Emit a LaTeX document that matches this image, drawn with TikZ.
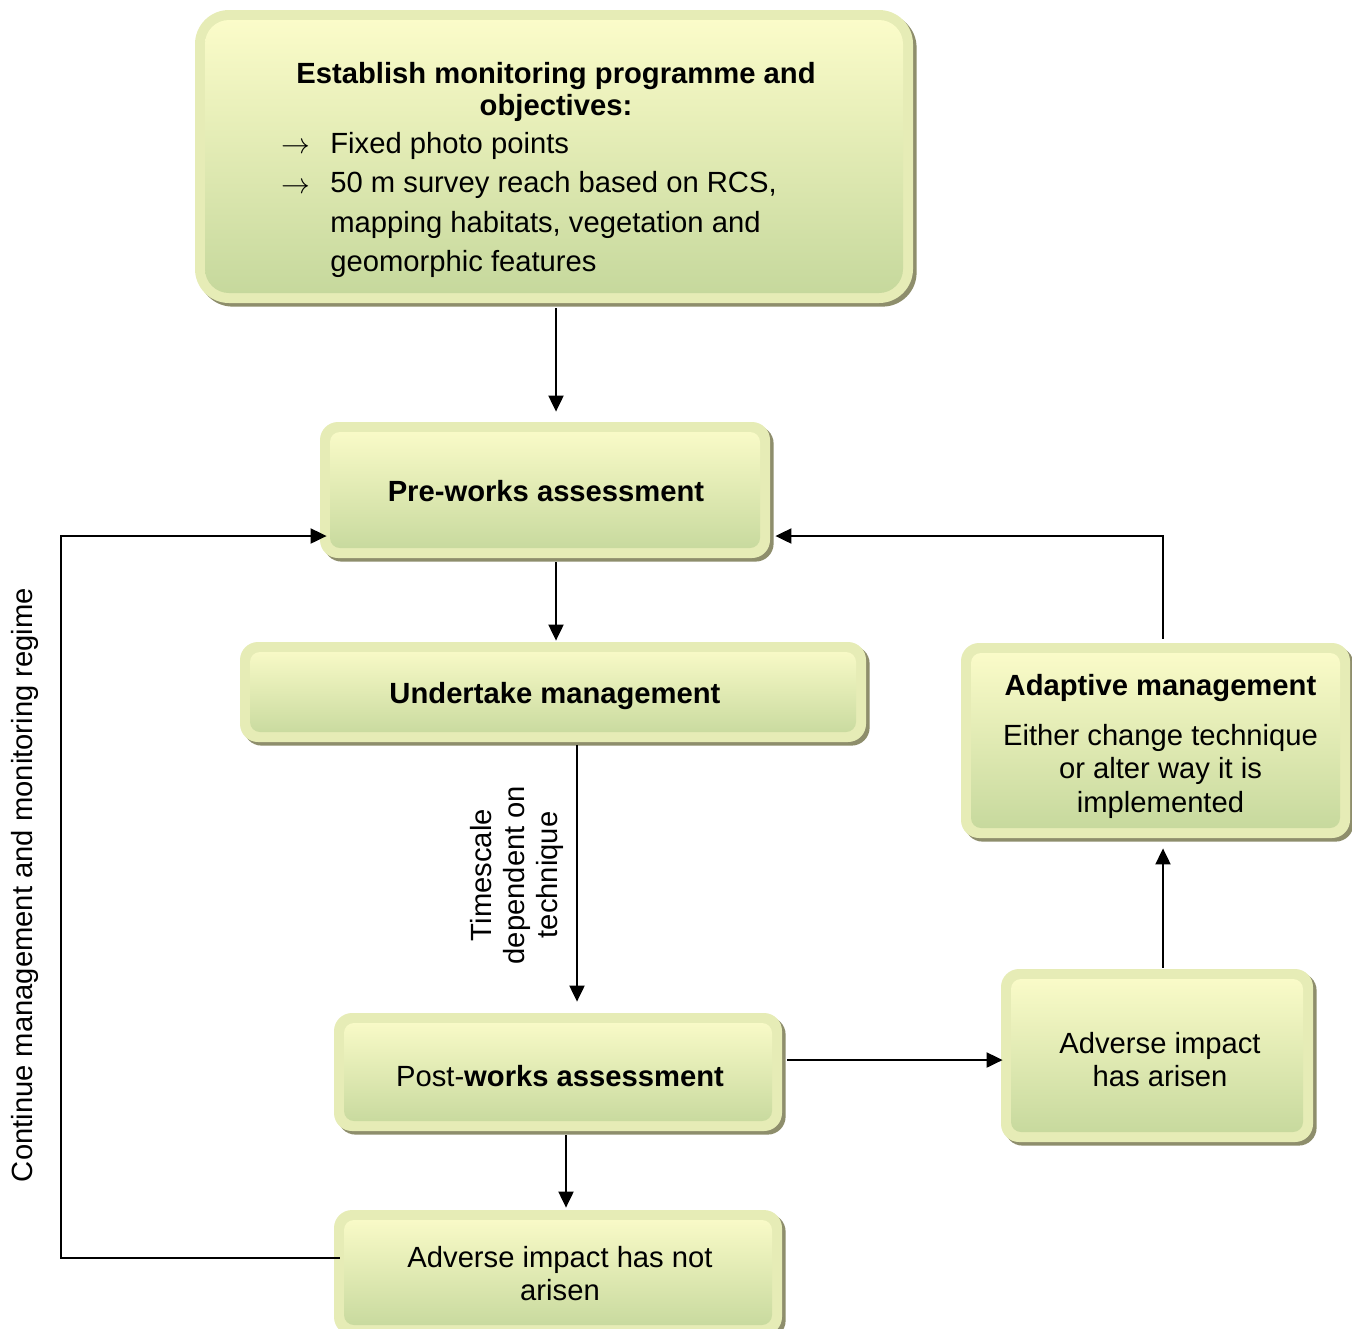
\documentclass[tikz,border=0pt]{standalone}
\usepackage{fontspec}
\setmainfont{Liberation Sans}
\usetikzlibrary{arrows.meta,shadows}

\definecolor{bandc}{HTML}{E6ECB6}
\definecolor{shadowc}{HTML}{8E8E6C}
\definecolor{gradtop}{HTML}{FDFDCB}
\definecolor{gradbot}{HTML}{C4D79B}

\tikzset{
  inner radius/.store in=\innerrad, inner radius=5pt,
  gbox/.style={rectangle, rounded corners=#1, fill=bandc, draw=none,
    inner sep=0pt,
    drop shadow={shadow xshift=1.8pt, shadow yshift=-1.8pt, fill=shadowc, opacity=1},
    path picture={
      \shade[top color=gradtop, bottom color=gradbot, rounded corners=\innerrad]
        ([shift={(5pt,5pt)}]path picture bounding box.south west) rectangle
        ([shift={(-5pt,-5pt)}]path picture bounding box.north east);
    }},
  gbox/.default=9pt,
  txt/.style={inner sep=0pt, align=center, font=\fontsize{14.6pt}{16.7pt}\selectfont},
  arr/.style={draw, line width=1pt, -{Triangle[length=8pt,width=7.5pt]}}
}

\begin{document}
\begin{tikzpicture}[x=0.5pt,y=-0.5pt]
\useasboundingbox (0,0) rectangle (1352,1328);
\clip (0,0) rectangle (1352,1328);

% boxes
\node[gbox=17pt, inner radius=12pt, minimum width=359pt, minimum height=146.5pt] (top) at (554,156.5) {};
\node[gbox, minimum width=225pt, minimum height=68pt] (pre) at (545,490) {};
\node[gbox, minimum width=313pt, minimum height=50pt] (under) at (553,692) {};
\node[gbox, minimum width=194.5pt, minimum height=97.5pt] (adapt) at (1155.5,740.5) {};
\node[gbox, minimum width=156pt, minimum height=86.5pt] (arisen) at (1157,1055.5) {};
\node[gbox, minimum width=224pt, minimum height=59pt] (post) at (558,1072) {};
\node[gbox, minimum width=224pt, minimum height=62.5pt] (nota) at (558,1272.5) {};

% box texts
\node[txt] (pretxt) at ([xshift=0.5pt,yshift=-0.5pt]pre.center) {\bfseries Pre-works assessment};
\node[txt] (undertxt) at ([xshift=1pt,yshift=-2pt]under.center) {\bfseries Undertake management};
\node[txt] (adapttxt) at ([xshift=2.5pt,yshift=-3pt]adapt.center)
  {\bfseries Adaptive management\\[8pt]Either change technique\\or alter way it is\\implemented};
\node[txt] (arisentxt) at ([xshift=1.5pt,yshift=-2pt]arisen.center) {Adverse impact\\has arisen};
\node[txt] (posttxt) at ([xshift=1pt,yshift=-2pt]post.center) {Post-\textbf{works assessment}};
\node[txt] (notatxt) at ([xshift=1pt,yshift=-0.5pt]nota.center) {Adverse impact has not\\arisen};

% contents of the top box
\node[txt, font=\fontsize{14.6pt}{16pt}\selectfont\bfseries] (toptitle) at (556,92)
  {Establish monitoring programme and\\objectives:};
\node[txt] (bul1) at (296,148) {$\rightarrow$};
\node[txt] (bul2) at (296,188) {$\rightarrow$};
\node[txt, align=left, anchor=west, font=\fontsize{14.6pt}{19.6pt}\selectfont] (toplist) at (330,205)
  {Fixed photo points\\50 m survey reach based on RCS,\\mapping habitats, vegetation and\\geomorphic features};

% side labels
\node[txt, rotate=90] (contlbl) at (25,885) {Continue management and monitoring regime};
\node[txt, rotate=90] (timelbl) at (517,875) {Timescale\\dependent on\\technique};

% connectors
\draw[arr, shorten <=2.5pt, shorten >=5pt] ([xshift=1pt]top.south) -- ([xshift=1pt]top.south |- pre.north);
\draw[arr, shorten <=2pt, shorten >=0.5pt] ([xshift=1.5pt]under.north |- pre.south) -- ([xshift=1.5pt]under.north);
\draw[arr, shorten <=1.5pt, shorten >=5.5pt] ([xshift=9.5pt]post.north |- under.south) -- ([xshift=9.5pt]post.north);
\draw[arr, shorten <=2pt, shorten >=1pt] ([xshift=4pt]post.south) -- ([xshift=4pt]nota.north);
\draw[arr, shorten <=2.5pt, shorten >=-1pt] ([yshift=6pt]post.east) -- ([yshift=6pt]post.east -| arisen.west);
\draw[arr, shorten <=0.5pt, shorten >=5pt] ([xshift=3pt]arisen.north) -- ([xshift=3pt]arisen.north |- adapt.south);
\draw[arr, shorten <=2pt, shorten >=2.5pt] ([xshift=3.75pt]adapt.north) |- ([yshift=-23pt]pre.east);
\coordinate (loopx) at (61,536);
\draw[arr, shorten >=-3.5pt] ([xshift=3pt,yshift=7.25pt]nota.west) -| (loopx) -- ([yshift=-23pt]pre.west);
\end{tikzpicture}
\end{document}
